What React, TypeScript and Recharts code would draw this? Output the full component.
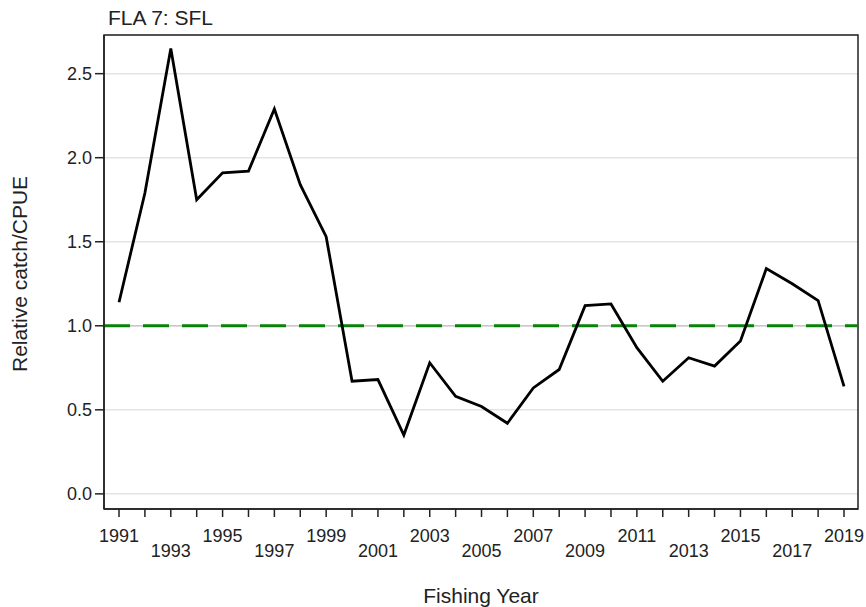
import {
  CartesianGrid,
  Line,
  LineChart,
  ReferenceArea,
  ReferenceLine,
  XAxis,
  YAxis,
} from "recharts";

const years = [
  1991, 1992, 1993, 1994, 1995, 1996, 1997, 1998, 1999, 2000, 2001, 2002, 2003,
  2004, 2005, 2006, 2007, 2008, 2009, 2010, 2011, 2012, 2013, 2014, 2015, 2016,
  2017, 2018, 2019,
];

const cpue = [
  1.14, 1.79, 2.65, 1.75, 1.91, 1.92, 2.29, 1.84, 1.53, 0.67, 0.68, 0.35, 0.78,
  0.58, 0.52, 0.42, 0.63, 0.74, 1.12, 1.13, 0.87, 0.67, 0.81, 0.76, 0.91, 1.34,
  1.25, 1.15, 0.64,
];

const yTicks = [0, 0.5, 1, 1.5, 2, 2.5];

const data = years.map((year, i) => ({ year, cpue: cpue[i] }));

const X_MIN = 1990.42;
const X_MAX = 2019.54;
const Y_MIN = -0.09;
const Y_MAX = 2.73;

const FONT = "'Liberation Sans', Arial, sans-serif";

function YearTick(props: any) {
  const { x, y, payload } = props;
  const year = payload.value;
  if ((year - 1991) % 2 !== 0) return null;
  const lower = ((year - 1991) / 2) % 2 === 1;
  return (
    <text
      x={x}
      y={y + (lower ? 38 : 23)}
      textAnchor="middle"
      fontSize={18}
      fontFamily={FONT}
      fill="#222"
    >
      {year}
    </text>
  );
}

export default function App() {
  return (
    <div style={{ position: "absolute", left: 0, top: 0, width: 866, height: 607, background: "#fff" }}>
      <div
        style={{
          position: "absolute",
          left: 108,
          top: 6,
          fontFamily: FONT,
          fontSize: 21,
          color: "#222",
        }}
      >
        FLA 7: SFL
      </div>
      <LineChart
        width={866}
        height={607}
        data={data}
        margin={{ top: 35, right: 8, bottom: 0, left: 0 }}
      >
        <CartesianGrid vertical={false} stroke="#e4e4e4" strokeWidth={1.5} />
        <XAxis
          dataKey="year"
          type="number"
          domain={[X_MIN, X_MAX]}
          ticks={years}
          allowDataOverflow
          height={98}
          tickSize={8}
          interval={0}
          stroke="#222"
          strokeWidth={1.5}
          tick={<YearTick />}
          label={{
            value: "Fishing Year",
            position: "insideBottom",
            offset: 4,
            fontSize: 21,
            fontFamily: FONT,
            fill: "#222",
          }}
        />
        <YAxis
          type="number"
          domain={[Y_MIN, Y_MAX]}
          ticks={yTicks}
          allowDataOverflow
          width={104}
          tickSize={9}
          tickMargin={3}
          stroke="#222"
          strokeWidth={1.5}
          tickFormatter={(v: number) => v.toFixed(1)}
          tick={{ fontSize: 18, fontFamily: FONT, fill: "#222" }}
          label={{
            value: "Relative catch/CPUE",
            angle: -90,
            position: "insideLeft",
            offset: 20,
            dy: 100,
            fontSize: 21,
            fontFamily: FONT,
            fill: "#222",
          }}
        />
        <ReferenceArea
          x1={X_MIN}
          x2={X_MAX}
          y1={Y_MIN}
          y2={Y_MAX}
          fill="none"
          stroke="#222"
          strokeWidth={1.5}
          ifOverflow="visible"
        />
        <ReferenceLine y={1} stroke="#c8c8c8" strokeWidth={1.5} />
        <ReferenceLine
          y={1}
          stroke="#0a820a"
          strokeWidth={3}
          strokeDasharray="26 13"
        />
        <Line
          type="linear"
          dataKey="cpue"
          stroke="#000"
          strokeWidth={2.8}
          dot={false}
          isAnimationActive={false}
        />
      </LineChart>
    </div>
  );
}
